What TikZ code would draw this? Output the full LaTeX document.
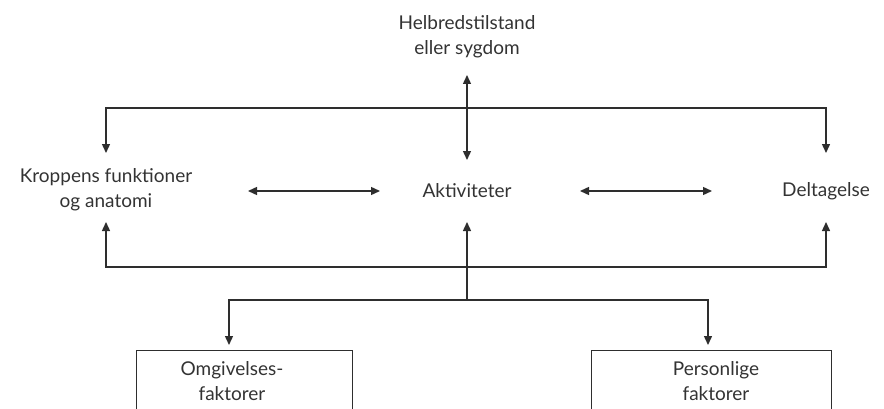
\documentclass[tikz,border=0pt]{standalone}
\usepackage{fontspec}
\setmainfont{Lato}
\usetikzlibrary{arrows.meta,calc}
\definecolor{ln}{HTML}{2E2E2E}
\definecolor{tx}{HTML}{333333}
\tikzset{
 lbl/.style={font=\fontsize{19}{25}\selectfont, text=tx, align=center, inner sep=0pt},
 conn/.style={draw=ln, line width=1.4pt, -{Triangle[length=9pt,width=8pt]}},
 both/.style={draw=ln, line width=1.4pt, {Triangle[length=9pt,width=8pt]}-{Triangle[length=9pt,width=8pt]}},
 fbox/.style={draw=ln, line width=1.4pt, inner sep=0pt}
}
\begin{document}
\begin{tikzpicture}[x=1pt,y=1pt]
\useasboundingbox (0,0) rectangle (884,408);
\node[lbl] (health) at (467,371) {Helbredstilstand\\eller sygdom};
\node[lbl] (body) at (106,218) {Kroppens funktioner\\og anatomi};
\node[lbl] (act) at (467,217) {Aktiviteter};
\node[lbl] (part) at (826,217) {Deltagelse};
\node[fbox, minimum width=216, minimum height=80, anchor=north west] (envbox) at (136,58) {};
\node[fbox, minimum width=240, minimum height=80, anchor=north west] (perbox) at (591,58) {};
\node[lbl] (env) at (232,27) {Omgivelses-\\faktorer};
\node[lbl] (pers) at (716,27) {Personlige\\faktorer};
% health <-> activities
\draw[both] ($(health)+(0,-38)$) -- ($(act)+(0,31)$);
% top bar
\draw[both] ($(body)+(0,37)$) |- ($(act)+(0,83)$) -| ($(part)+(0,38)$);
% bottom bar
\draw[both] ($(body)+(0,-32)$) |- ($(act)+(0,-76)$) -| ($(part)+(0,-31)$);
% horizontal arrows
\draw[both] ($(act)+(-219,0)$) -- ($(act)+(-87,0)$);
\draw[both] ($(act)+(113,0)$) -- ($(act)+(245,0)$);
% middle vertical
\draw[conn] ($(act)+(0,-109)$) -- ($(act)+(0,-31)$);
% lower bar to boxes
\draw[conn] ($(act)+(0,-109)$) -| ($(envbox.north west)+(93,5)$);
\draw[conn] ($(act)+(0,-109)$) -| ($(perbox.north west)+(117,5)$);
\end{tikzpicture}
\end{document}
